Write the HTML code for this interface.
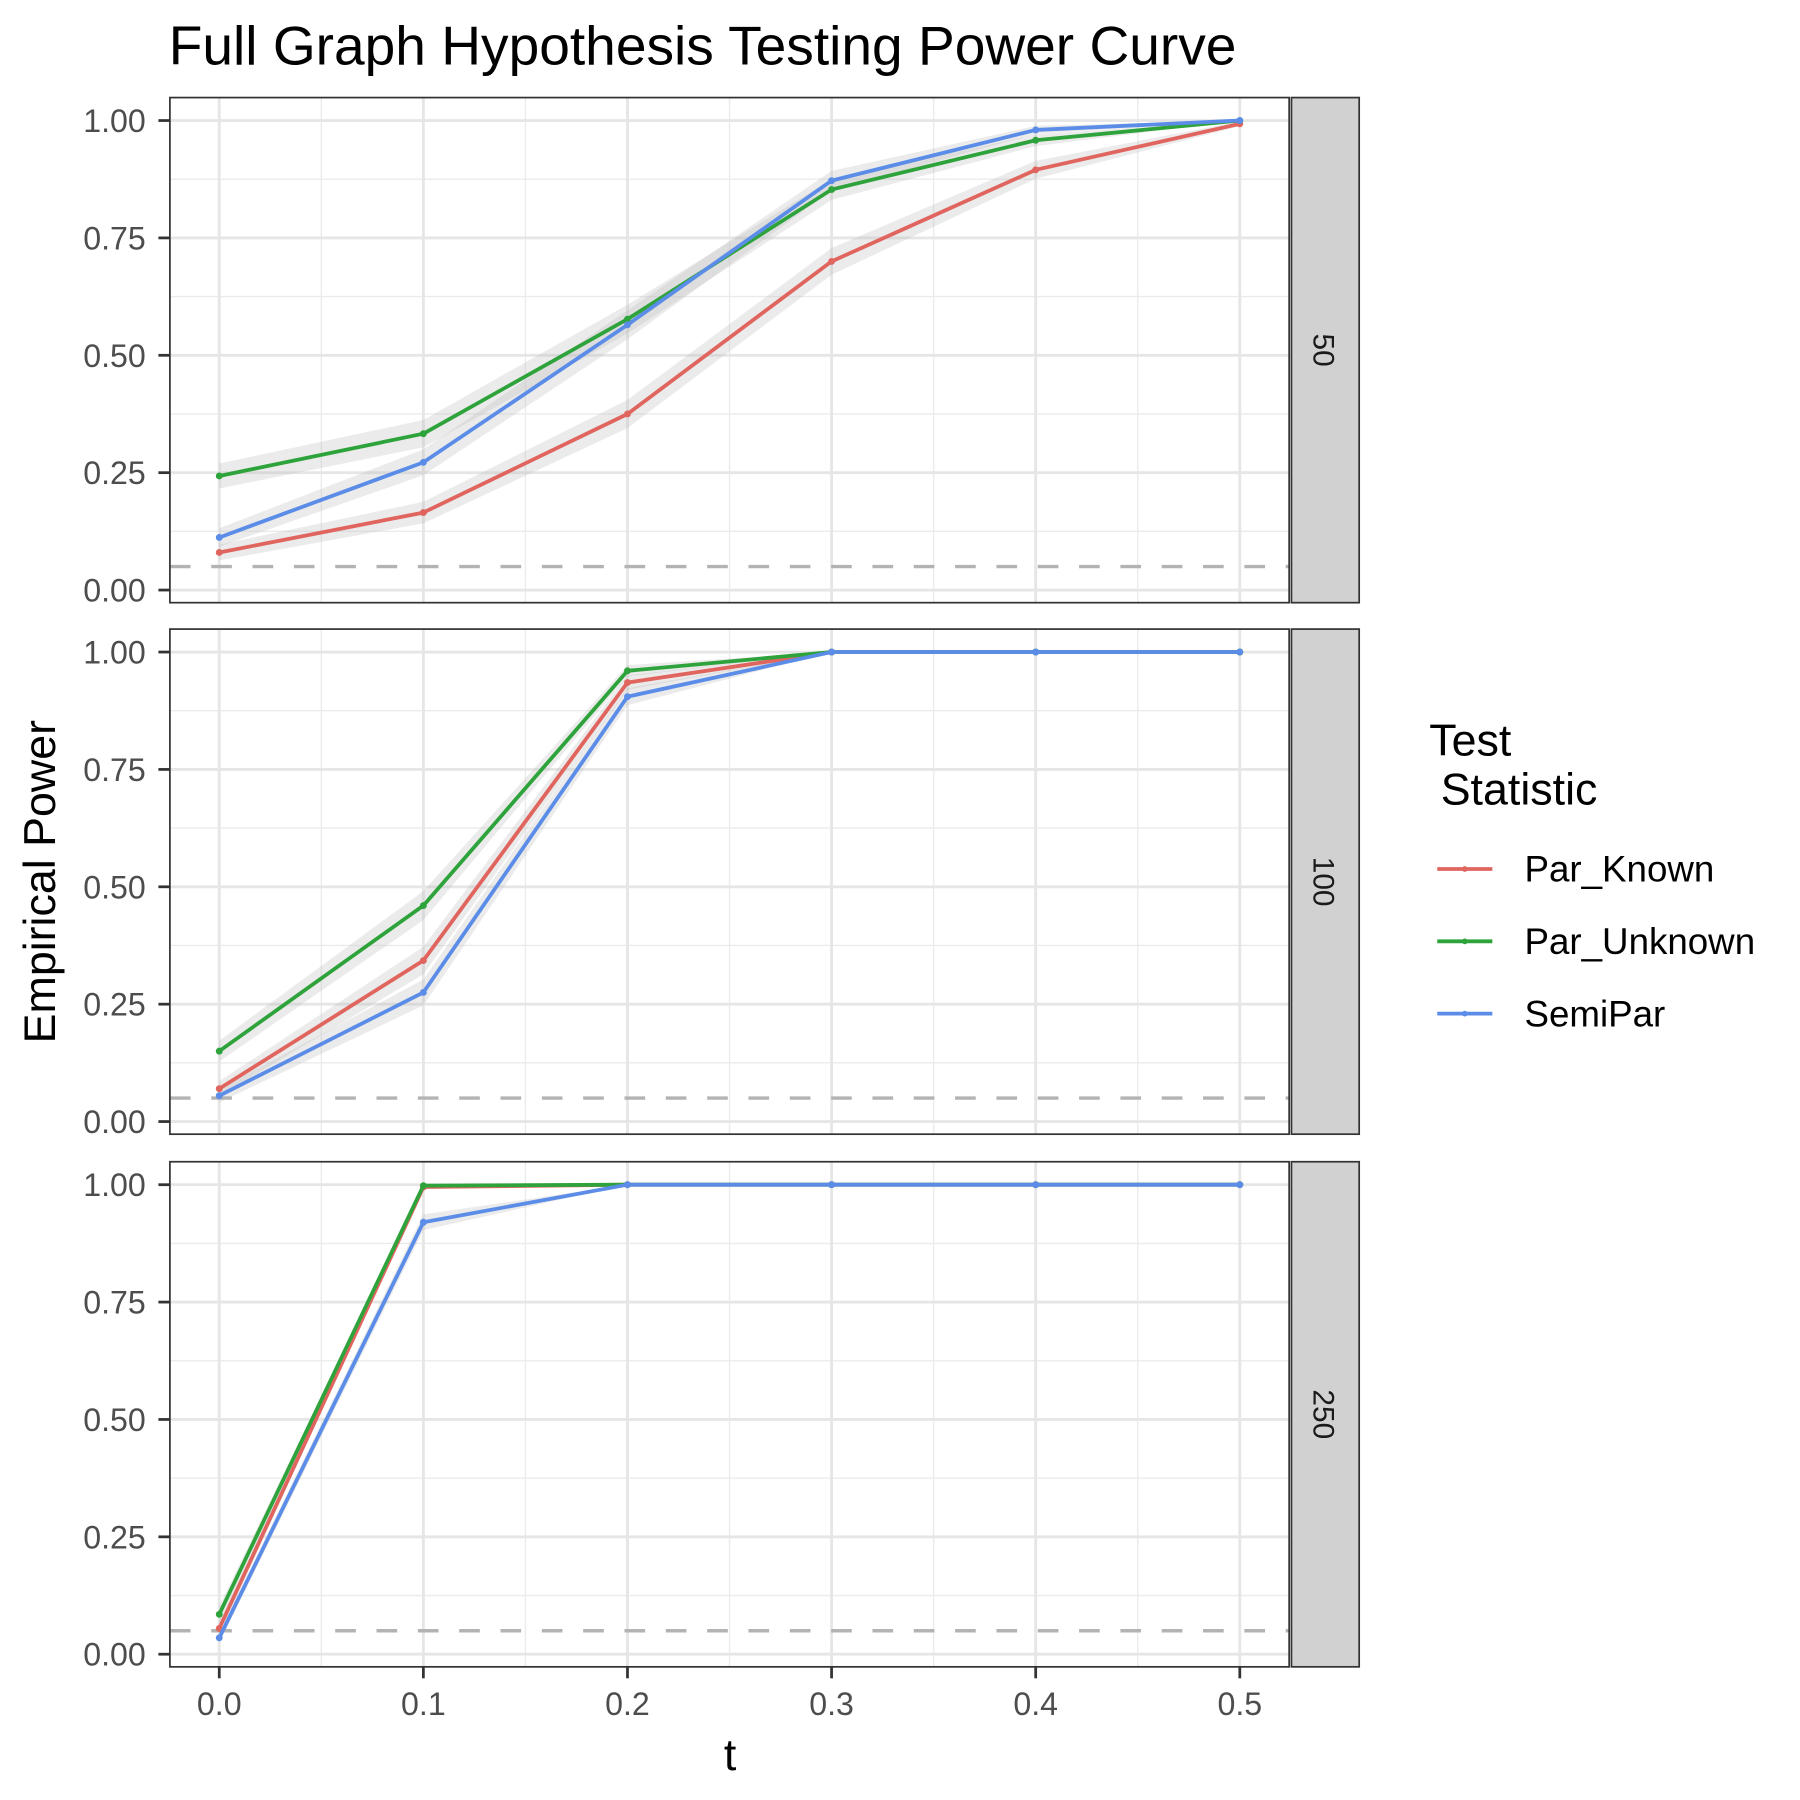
<!DOCTYPE html>
<html><head><meta charset="utf-8"><style>html,body{margin:0;padding:0;background:#fff}svg{display:block}text{font-family:"Liberation Sans",Arial,sans-serif}</style></head>
<body>
<svg id="chart" width="1800" height="1800" viewBox="0 0 1568 1568" xmlns="http://www.w3.org/2000/svg">
<text x="147" y="56" font-size="48" fill="#000">Full Graph Hypothesis Testing Power Curve</text>
<text transform="translate(48,768) rotate(-90)" text-anchor="middle" font-size="39" fill="#000">Empirical Power</text>
<text x="636" y="1542" text-anchor="middle" font-size="39" fill="#000">t</text>
<g id="legend">
<text x="1245" y="658" font-size="39" fill="#000">Test</text>
<text x="1255" y="701" font-size="39" fill="#000">Statistic</text>
</g>
<g id="panels"></g>
</svg>
<script>
const xs = [0, 0.1, 0.2, 0.3, 0.4, 0.5];
const panelLabels = ["50", "100", "250"];
const seriesNames = ["Par_Known", "Par_Unknown", "SemiPar"];
const parKnown = [
  [0.08, 0.165, 0.375, 0.70, 0.895, 0.993],
  [0.07, 0.343, 0.935, 1, 1, 1],
  [0.055, 0.995, 1, 1, 1, 1]
];
const parUnknown = [
  [0.243, 0.333, 0.577, 0.853, 0.958, 1.0],
  [0.15, 0.46, 0.96, 1, 1, 1],
  [0.085, 0.998, 1, 1, 1, 1]
];
const semiPar = [
  [0.112, 0.272, 0.565, 0.872, 0.98, 1.0],
  [0.055, 0.275, 0.905, 1, 1, 1],
  [0.035, 0.92, 1, 1, 1, 1]
];
const yTicks = [0, 0.25, 0.5, 0.75, 1];
const yTickLabels = ["0.00", "0.25", "0.50", "0.75", "1.00"];
const xTickLabels = ["0.0", "0.1", "0.2", "0.3", "0.4", "0.5"];
const alphaLevel = 0.05;

const NS = "http://www.w3.org/2000/svg";
const colors = ["#E0655F", "#2EA33B", "#5B8DE8"];
const allSeries = [parKnown, parUnknown, semiPar];
const PX0 = 148, PX1 = 1123, panelTop = [85, 548, 1012], PH = 440;
function xScale(t) { return 191 + (t - 0) / 0.5 * (1080 - 191); }
function yScale(p, i) { const y1 = panelTop[i] + 20; return y1 + (1 - p) * 409; }
function mk(tag, attrs, parent) { const e = document.createElementNS(NS, tag); for (const k in attrs) e.setAttribute(k, attrs[k]); parent.appendChild(e); return e; }
const root = document.getElementById("panels");
panelLabels.forEach((lab, i) => {
  const g = mk("g", {}, root);
  
  
  const top = panelTop[i], bot = top + PH;
  for (let v = 0.125; v < 1; v += 0.25) mk("line", {x1: PX0, x2: PX1, y1: yScale(v, i), y2: yScale(v, i), stroke: "#ebebeb", "stroke-width": 1.2}, g);
  for (let t = 0.05; t < 0.5; t += 0.1) mk("line", {x1: xScale(t), x2: xScale(t), y1: top, y2: bot, stroke: "#ebebeb", "stroke-width": 1.2}, g);
  yTicks.forEach(v => mk("line", {x1: PX0, x2: PX1, y1: yScale(v, i), y2: yScale(v, i), stroke: "#e6e6e6", "stroke-width": 2.5}, g));
  xs.forEach(t => mk("line", {x1: xScale(t), x2: xScale(t), y1: top, y2: bot, stroke: "#e6e6e6", "stroke-width": 2.5}, g));
  allSeries.forEach(s => {
    const v = s[i];
    const up = v.map((p, k) => xScale(xs[k]) + "," + yScale(Math.min(1, p + 1.96 * Math.sqrt(p * (1 - p) / 1000)), i));
    const lo = v.map((p, k) => xScale(xs[k]) + "," + yScale(Math.max(0, p - 1.96 * Math.sqrt(p * (1 - p) / 1000)), i)).reverse();
    const band = mk("polygon", {points: up.concat(lo).join(" "), fill: "#bdbdbd", "fill-opacity": 0.3}, g);
    
    
  });
  const ref = mk("line", {x1: PX0, x2: PX1, y1: yScale(alphaLevel, i), y2: yScale(alphaLevel, i), stroke: "#b3b3b3", "stroke-width": 3, "stroke-dasharray": "18,18"}, g);
  
  
  allSeries.forEach((s, si) => {
    const v = s[i];
    const pl = mk("polyline", {points: v.map((p, k) => xScale(xs[k]) + "," + yScale(p, i)).join(" "), fill: "none", stroke: colors[si], "stroke-width": 3.3, "stroke-linejoin": "round"}, g);
    
    
    v.forEach((p, k) => {
      const c = mk("circle", {cx: xScale(xs[k]), cy: yScale(p, i), r: 3, fill: colors[si]}, g);
      
      
    });
  });
  mk("rect", {x: PX0, y: top, width: PX1 - PX0, height: PH, fill: "none", stroke: "#333", "stroke-width": 1.5}, g);
  const strip = mk("rect", {x: 1125, y: top, width: 59, height: PH, fill: "#d1d1d1", stroke: "#333", "stroke-width": 1.5}, g);
  
  
  const st = mk("text", {transform: `translate(1144,${top + PH / 2}) rotate(90)`, "text-anchor": "middle", "font-size": 26, fill: "#1a1a1a"}, g);
  st.textContent = lab;
  
  
  yTicks.forEach((v, k) => {
    mk("line", {x1: PX0 - 10, x2: PX0, y1: yScale(v, i), y2: yScale(v, i), stroke: "#333", "stroke-width": 2.4}, g);
    const tx = mk("text", {x: PX0 - 21, y: yScale(v, i) + 10, "text-anchor": "end", "font-size": 28, fill: "#4d4d4d"}, g);
    tx.textContent = yTickLabels[k];
    
    
  });
  if (i === 2) {
    xs.forEach((t, k) => {
      mk("line", {x1: xScale(t), x2: xScale(t), y1: bot, y2: bot + 10, stroke: "#333", "stroke-width": 2.4}, g);
      const tx = mk("text", {x: xScale(t), y: bot + 42, "text-anchor": "middle", "font-size": 28, fill: "#4d4d4d"}, g);
      tx.textContent = xTickLabels[k];
      
      
    });
  }
});
const lg = document.getElementById("legend");
seriesNames.forEach((n, si) => {
  const y = 757 + si * 63;
  const e = mk("g", {}, lg);
  
  
  mk("line", {x1: 1252, x2: 1300, y1: y, y2: y, stroke: colors[si], "stroke-width": 3.3}, e);
  mk("circle", {cx: 1276, cy: y, r: 2.5, fill: colors[si]}, e);
  const t = mk("text", {x: 1328, y: y + 11, "font-size": 32, fill: "#000"}, e);
  t.textContent = n;
});
</script>
</body></html>
